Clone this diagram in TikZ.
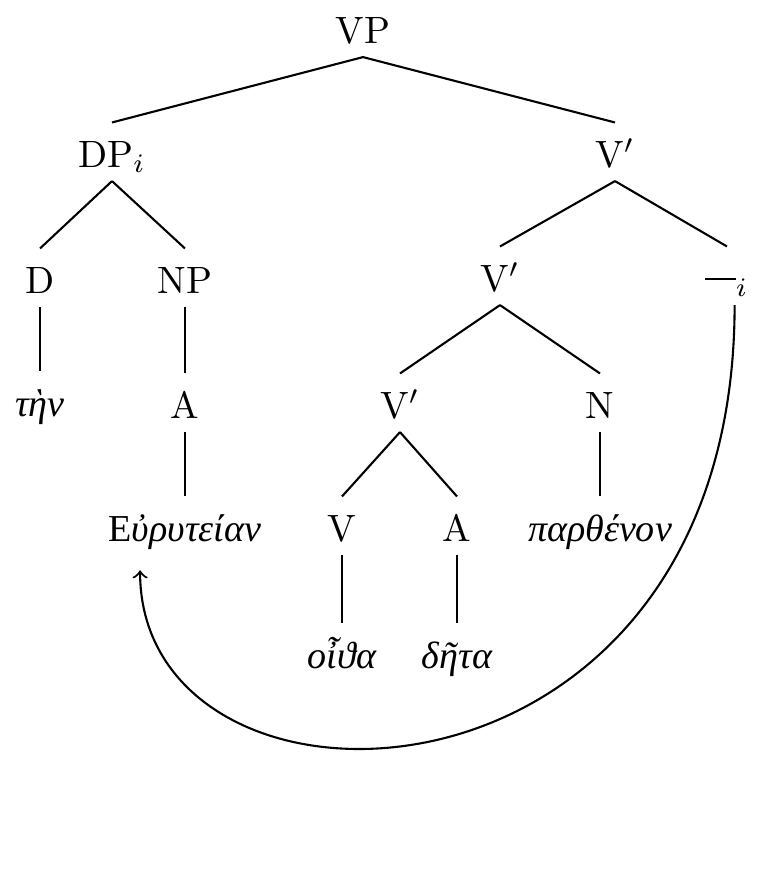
\documentclass[tikz,border=0pt]{standalone}
\usepackage{fontspec}
\newfontfamily\greekfont[Script=Greek]{Liberation Serif}
\setmainfont{Latin Modern Roman}
\usetikzlibrary{positioning}

\begin{document}
\begin{tikzpicture}[
    x=0.2627pt, y=-0.2627pt,
    tn/.style={anchor=base, inner sep=3.5pt, text height=8pt, text depth=0pt},
    gk/.style={tn, font=\greekfont\itshape},
    edge/.style={line width=0.55pt},
    mv/.style={->, line width=0.55pt},
]
    \useasboundingbox (0,0) rectangle (776,880);
    % Nodes
    \node[tn] (vp) at (363,43) {VP};
    \node[tn] (dp) at (112,167) {DP$_i$};
    \node[tn] (vbar) at (615,167) {V$'$};
    \node[tn] (d) at (40,293) {D};
    \node[tn] (np) at (185,293) {NP};
    \node[tn] (vbarb) at (500,291) {V$'$};
    \node[tn] (trace) at (727,291) {\rule[3pt]{8pt}{0.5pt}$_i$};
    \node[gk] (ten) at (40,416) {τὴν};
    \node[tn] (adj) at (185,418) {A};
    \node[tn] (vbarc) at (400,418) {V$'$};
    \node[tn] (n) at (600,418) {N};
    \node[gk] (eury) at (185,541) {{\upshape Ε}ὐρυτείαν};
    \node[tn] (v) at (342,541) {V};
    \node[tn] (adjb) at (457,541) {A};
    \node[gk] (parth) at (600,541) {παρθένον};
    \node[gk] (oida) at (342,668) {οἶϑα};
    \node[gk] (deta) at (457,668) {δῆτα};

    % Branches
    \draw[edge] (vp.south) -- (dp.north);
    \draw[edge] (vp.south) -- (vbar.north);
    \draw[edge] (dp.south) -- (d.north);
    \draw[edge] (dp.south) -- (np.north);
    \draw[edge] (vbar.south) -- (vbarb.north);
    \draw[edge] (vbar.south) -- (trace.north);
    \draw[edge] (d.south) -- (ten.north);
    \draw[edge] (np.south) -- (adj.north);
    \draw[edge] (vbarb.south) -- (vbarc.north);
    \draw[edge] (vbarb.south) -- (n.north);
    \draw[edge] (adj.south) -- (eury.north);
    \draw[edge] (vbarc.south) -- (v.north);
    \draw[edge] (vbarc.south) -- (adjb.north);
    \draw[edge] (n.south) -- (parth.north);
    \draw[edge] (v.south) -- (oida.north);
    \draw[edge] (adjb.south) -- (deta.north);

    % Movement
    \draw[mv] ([xshift=2pt]trace.south) .. controls +(0,530) and +(0,275) .. ([xshift=-11.8pt, yshift=-4pt]eury.south);
\end{tikzpicture}
\end{document}
